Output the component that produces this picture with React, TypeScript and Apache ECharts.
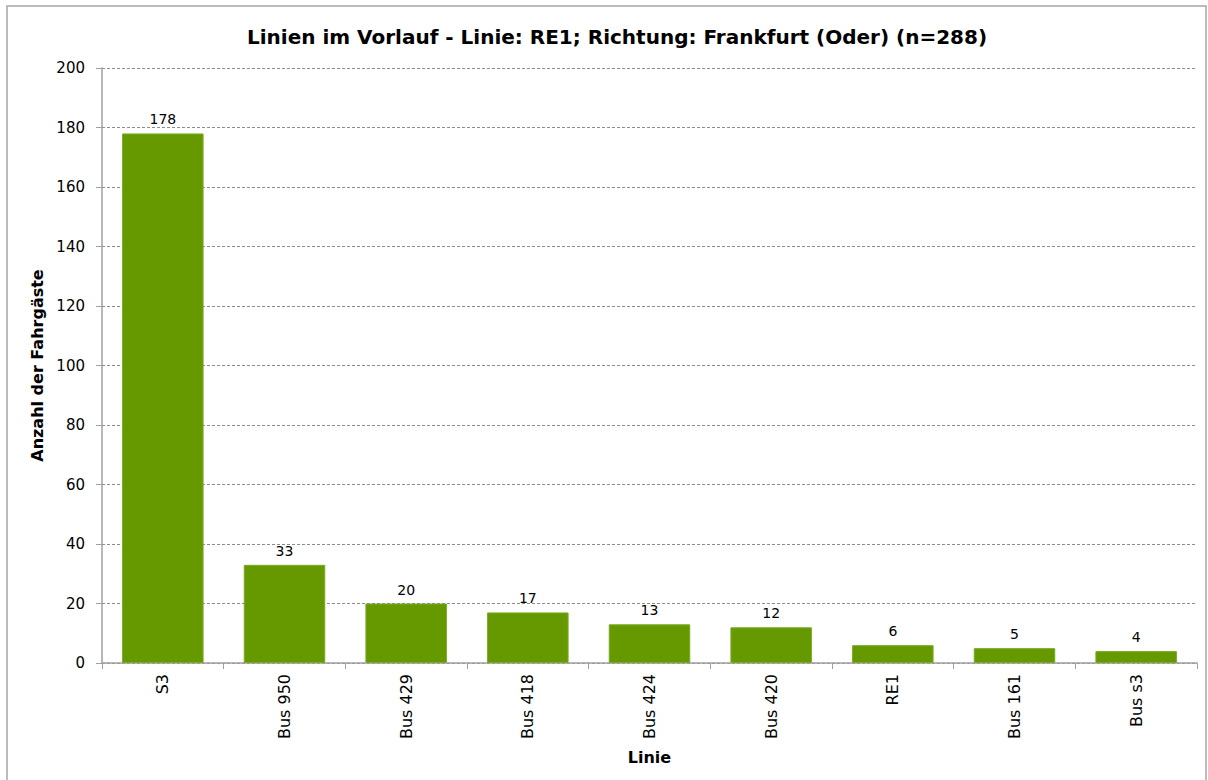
import React, { useEffect, useRef } from "react";
import * as echarts from "echarts";

const categories = ["S3", "Bus 950", "Bus 429", "Bus 418", "Bus 424", "Bus 420", "RE1", "Bus 161", "Bus s3"];
const values = [178, 33, 20, 17, 13, 12, 6, 5, 4];
const titleText = "Linien im Vorlauf - Linie: RE1; Richtung: Frankfurt (Oder) (n=288)";
const yAxisName = "Anzahl der Fahrgäste";
const xAxisName = "Linie";

const FONT = "DejaVu Sans";

export default function App() {
  const ref = useRef<HTMLDivElement>(null);
  useEffect(() => {
    document.body.style.margin = "0";
    const chart = echarts.init(ref.current!, null, { renderer: "svg" });
    chart.setOption({
      animation: false,
      backgroundColor: "#ffffff",
      textStyle: { fontFamily: FONT },
      title: {
        text: titleText,
        left: 612,
        textAlign: "center",
        top: 22,
        textStyle: { fontFamily: FONT, fontSize: 20, fontWeight: "bold", color: "#000" },
      },
      graphic: [
        {
          type: "rect",
          shape: { x: 7, y: 6, width: 1199, height: 800 },
          style: { fill: "none", stroke: "#a6a6a6", lineWidth: 1.5 },
          silent: true,
        },
      ],
      grid: { left: 102, right: 11, top: 68, bottom: 117, containLabel: false },
      xAxis: {
        type: "category",
        data: categories,
        name: xAxisName,
        nameLocation: "middle",
        nameGap: 86,
        nameTextStyle: { fontFamily: FONT, fontSize: 16, fontWeight: "bold", color: "#000" },
        axisLine: { lineStyle: { color: "#a0a0a0", width: 1.5 } },
        axisTick: { show: true, length: 6, lineStyle: { color: "#a0a0a0" } },
        axisLabel: { rotate: 90, fontFamily: FONT, fontSize: 16, color: "#000", margin: 11 },
      },
      yAxis: {
        type: "value",
        min: 0,
        max: 200,
        interval: 20,
        name: yAxisName,
        nameLocation: "middle",
        nameGap: 54,
        nameTextStyle: { fontFamily: FONT, fontSize: 16, fontWeight: "bold", color: "#000" },
        axisLine: { show: true, lineStyle: { color: "#a0a0a0", width: 1.5 } },
        axisTick: { show: true, length: 6, lineStyle: { color: "#a0a0a0" } },
        axisLabel: { fontFamily: FONT, fontSize: 15, color: "#000", margin: 17 },
        splitLine: { lineStyle: { color: "#8c8c8c", type: [3, 2], width: 1 } },
      },
      series: [
        {
          type: "bar",
          data: values,
          barCategoryGap: "33%",
          itemStyle: { color: "#669900", borderColor: "#7aab22", borderWidth: 1 },
          label: { show: true, position: "top", distance: 7, fontFamily: FONT, fontSize: 14, color: "#000" },
        },
      ],
    });
    return () => chart.dispose();
  }, []);
  return <div ref={ref} style={{ position: "absolute", left: 0, top: 0, width: 1208, height: 780 }} />;
}
